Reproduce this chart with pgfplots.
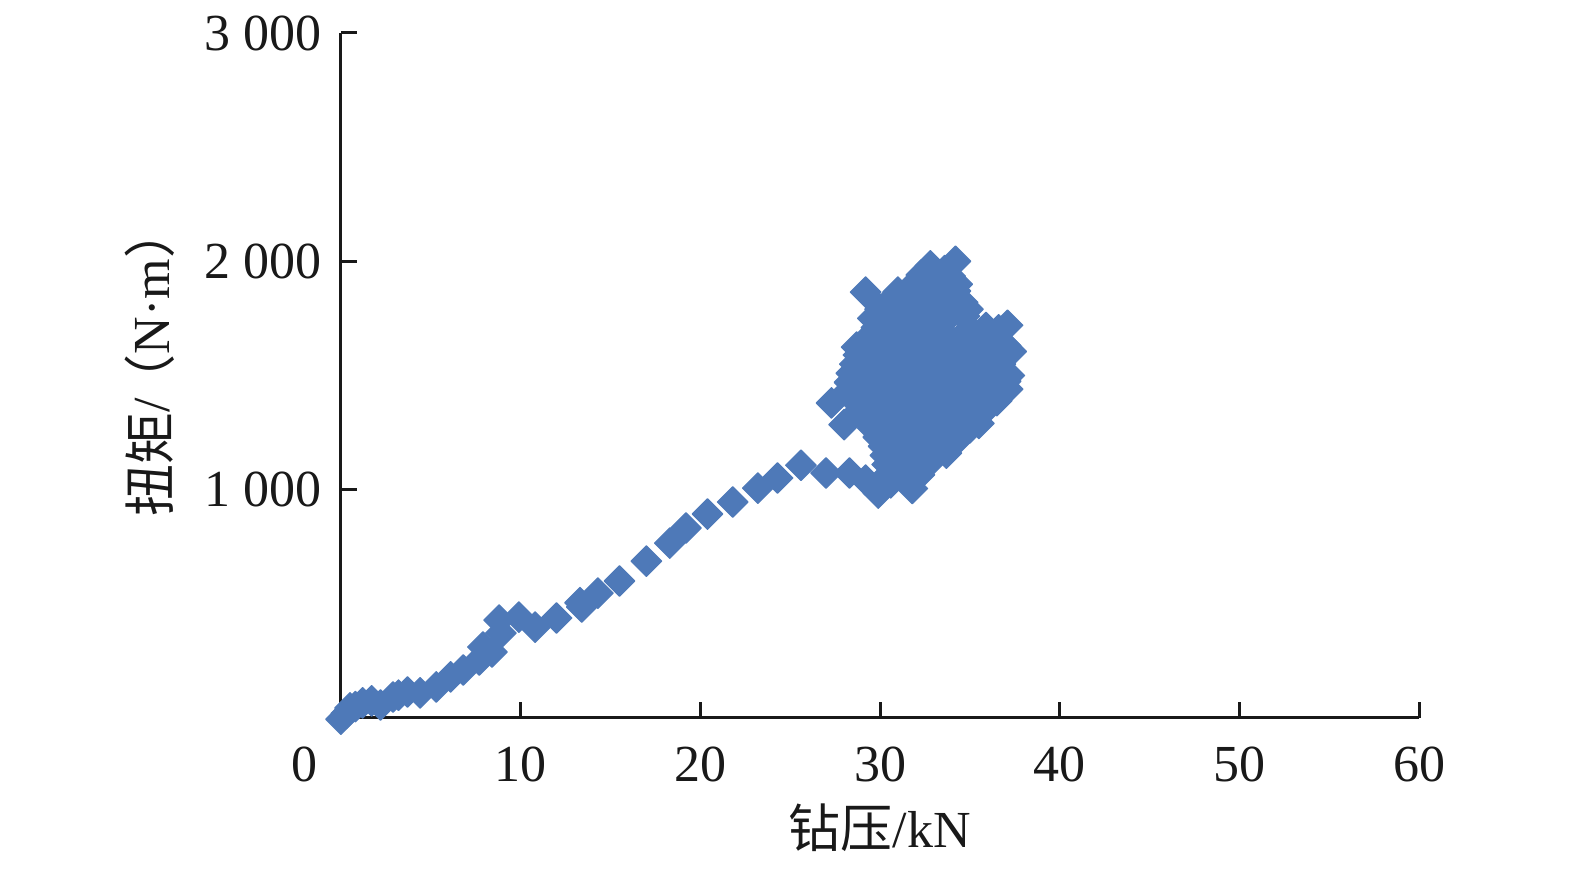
\documentclass[border=0pt]{standalone}
\usepackage{pgfplots}
\pgfplotsset{compat=1.18}
\usepackage{fontspec}
\setmainfont{Liberation Serif}
\newfontfamily\cjk{Noto Sans CJK SC}
\definecolor{ptblue}{RGB}{78,121,184}
\begin{document}
\begin{tikzpicture}
\begin{axis}[
  at={(0,0)}, anchor=south west,
  width=539pt, height=342.5pt, scale only axis,
  xmin=0, xmax=60, ymin=0, ymax=3000,
  axis lines=left,
  axis line style={-, line width=1.5pt, black!90},
  tick align=inside,
  major tick length=8pt,
  tick style={line width=1.5pt, black!90},
  xtick={10,20,30,40,50,60},
  ytick={1000,2000,3000},
  yticklabels={1\hspace{0.25em}000,2\hspace{0.25em}000,3\hspace{0.25em}000},
  extra x ticks={0},
  extra x tick labels={0},
  extra x tick style={major tick length=0pt, xticklabel style={xshift=-18pt}},
  /pgf/number format/assume math mode=true,
  tick label style={font=\fontsize{26}{30}\selectfont, black!90},
  xticklabel style={yshift=-11pt},
  yticklabel style={xshift=-6pt},
  label style={font=\fontsize{26}{30}\selectfont, black!90},
  xlabel={{\cjk 钻压}/kN},
  ylabel={{\cjk 扭矩}/\kern-0.15em{\cjk （}N·m{\cjk ）}},
  xlabel style={at={(axis description cs:0.5,-0.16)}, anchor=center},
  ylabel style={at={(axis description cs:-0.177,0.52)}, anchor=center},
  clip=false,
]
\addplot[only marks, mark=square*, mark size=5.4pt,
  mark options={rotate=45, fill=ptblue, draw=ptblue, line width=0.6pt, line join=round}]
coordinates {
(0.0,-5) (0.3,20) (0.5,44) (0.8,50) (1.2,66) (1.7,75) (2.2,57) (2.9,92) (3.2,100)
(3.7,114) (4.4,110) (5.3,136) (6.1,180) (6.8,210) (7.7,254) (7.9,311) (8.4,289)
(8.9,372) (8.8,429) (9.9,442) (10.8,398) (12.0,438) (13.3,505) (13.4,486)
(14.3,547) (15.5,600) (17.0,687) (18.3,766) (19.2,832) (20.4,893) (21.8,946)
(23.2,1007) (24.3,1051) (25.6,1107) (27.0,1073) (28.3,1073) (29.2,1042)
(29.9,985) (30.6,1030) (31.6,1040) (31.8,1005)
(30.5,1070) (31.4,1075) (32.2,1065)
(30.4,1110) (31.3,1100) (32.2,1120) (32.9,1130)
(30.3,1150) (31.2,1155) (32.1,1145) (33.0,1150)
(30.2,1190) (31.1,1180) (32.0,1200) (32.9,1185) (33.7,1160)
(29.9,1230) (30.8,1235) (31.7,1225) (32.6,1230) (33.5,1235) (34.4,1225)
(28.0,1285) (29.6,1270) (30.5,1260) (31.4,1280) (32.3,1265) (33.2,1275) (34.1,1250) (35.0,1270) (35.5,1290)
(29.2,1310) (30.1,1315) (31.0,1305) (31.9,1310) (32.8,1315) (33.7,1305) (34.6,1310) (35.3,1315)
(27.3,1380) (28.9,1350) (29.8,1340) (30.7,1360) (31.6,1350) (32.5,1345) (33.4,1355) (34.3,1340) (35.2,1350) (36.0,1360)
(28.6,1390) (29.5,1395) (30.4,1385) (31.3,1390) (32.2,1395) (33.1,1385) (34.0,1390) (34.9,1395) (35.8,1385) (36.5,1390)
(28.2,1430) (29.1,1440) (30.0,1425) (30.9,1435) (31.8,1430) (32.7,1420) (33.6,1440) (34.5,1430) (35.4,1425) (36.3,1435) (37.1,1440)
(28.3,1470) (29.2,1475) (30.1,1465) (31.0,1470) (31.9,1475) (32.8,1465) (33.7,1470) (34.6,1475) (35.5,1465) (36.4,1470) (37.0,1475)
(28.4,1510) (29.3,1500) (30.2,1515) (31.1,1505) (32.0,1510) (32.9,1500) (33.8,1515) (34.7,1505) (35.6,1510) (36.5,1500) (37.2,1500)
(28.6,1550) (29.5,1555) (30.4,1545) (31.3,1550) (32.2,1555) (33.1,1545) (34.0,1550) (34.9,1555) (35.8,1545) (36.7,1550)
(28.8,1590) (29.7,1600) (30.6,1585) (31.5,1595) (32.4,1590) (33.3,1600) (34.2,1585) (35.1,1595) (36.0,1590) (36.8,1600) (37.3,1605)
(28.7,1624) (29.2,1630) (30.1,1635) (31.0,1625) (31.9,1630) (32.8,1635) (33.7,1625) (34.6,1630) (35.5,1635) (36.4,1625) (37.0,1630)
(29.4,1670) (30.3,1665) (31.1,1675) (32.0,1670) (32.9,1660) (33.7,1675) (34.6,1665) (35.5,1670) (36.3,1660) (37.1,1720)
(29.8,1710) (30.7,1715) (31.5,1705) (32.4,1710) (33.3,1715) (35.0,1705) (35.9,1710) (36.6,1700)
(29.6,1750) (30.4,1745) (31.3,1755) (32.2,1750) (33.0,1745) (33.8,1755) (34.7,1760)
(30.0,1790) (30.9,1795) (31.8,1785) (32.6,1790) (33.4,1795) (34.2,1785) (34.9,1790)
(29.2,1865) (30.6,1830) (31.4,1835) (32.2,1825) (33.1,1830) (33.9,1835) (34.6,1820)
(31.0,1865) (31.8,1870) (32.6,1860) (33.4,1865) (34.2,1870)
(31.9,1900) (32.7,1895) (33.5,1905) (34.3,1900)
(32.3,1940) (33.1,1945) (33.9,1935)
(32.8,1980) (33.6,1960) (34.2,2000)
};
\end{axis}
\pgfresetboundingbox
\path[use as bounding box] (-170.5pt,-76pt) rectangle (617pt,359pt);
\end{tikzpicture}
\end{document}
